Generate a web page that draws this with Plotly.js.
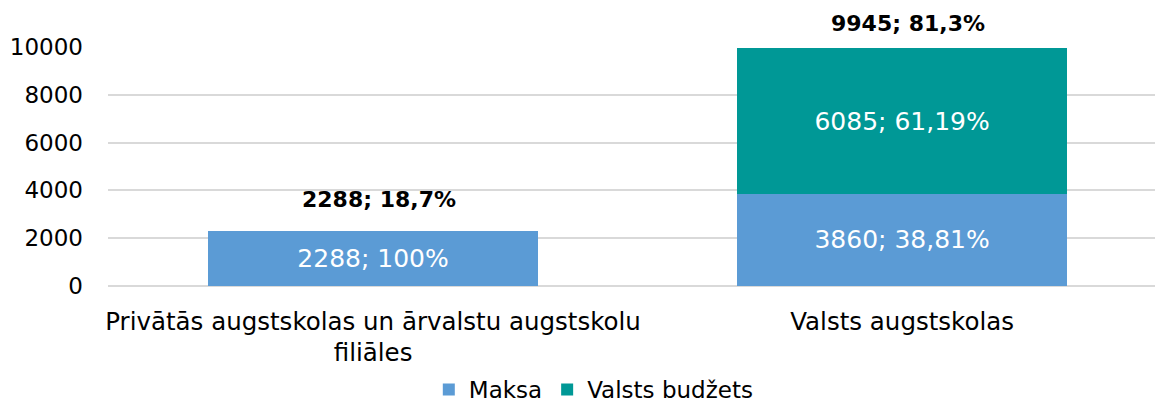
<!DOCTYPE html>
<html><head><meta charset="utf-8">
<script src="https://cdn.plot.ly/plotly-3.0.1.min.js"></script>
<style>html,body{margin:0;padding:0;background:#fff;}#chart{width:1155px;height:411px;}</style>
</head><body><div id="chart"></div>
<script>
const categories = ["Privātās augstskolas un ārvalstu augstskolu<br>filiāles", "Valsts augstskolas"];
const maksa = [2288, 3860];
const maksaPct = ["100%", "38,81%"];
const budzets = [0, 6085];
const budzetsPct = ["", "61,19%"];
const totals = [2288, 9945];
const totalsPct = ["18,7%", "81,3%"];
const tickVals = [0, 2000, 4000, 6000, 8000, 10000];

const FONT = "DejaVu Sans, Verdana, sans-serif";

const traces = [
  {type:"bar", name:"Maksa", x:categories, y:maksa,
   text: maksa.map((v,i)=> v + "; " + maksaPct[i]), textposition:"inside", insidetextanchor:"middle",
   textfont:{color:"#ffffff", size:25, family:FONT},
   marker:{color:"#5B9BD5"}, width:0.624, hoverinfo:"none"},
  {type:"bar", name:"Valsts budžets", x:categories, y:budzets,
   text: budzets.map((v,i)=> v ? v + "; " + budzetsPct[i] : ""), textposition:"inside", insidetextanchor:"middle",
   textfont:{color:"#ffffff", size:25, family:FONT},
   marker:{color:"#009896"}, width:0.624, hoverinfo:"none"}
];

const annotations = totals.map((t,i)=>({
  x: categories[i], y: t, xref:"x", yref:"y",
  text: "<b>" + t + "; " + totalsPct[i] + "</b>",
  showarrow:false, yanchor:"middle", yshift: i===0 ? 32 : 24.5, xshift:6,
  font:{size:22, color:"#000000", family:FONT}
}));

const layout = {
  width:1155, height:411,
  margin:{l:108, r:0, t:46.5, b:124.5, autoexpand:false},
  barmode:"stack",
  paper_bgcolor:"#ffffff", plot_bgcolor:"#ffffff",
  font:{family:FONT, size:23, color:"#000000"},
  showlegend:true,
  legend:{orientation:"h", x:0.464, xanchor:"center", yref:"container", y:0, yanchor:"bottom",
          font:{size:23, family:FONT, color:"#000"}, itemwidth:30, traceorder:"normal"},
  xaxis:{range:[-0.501, 1.478], showgrid:false, zeroline:false, showline:false, automargin:false,
         ticks:"", tickfont:{size:24.5, family:FONT}, ticklabelstandoff:18, fixedrange:true},
  yaxis:{range:[0,10000], tickvals:tickVals, ticktext:tickVals.map(String), automargin:false,
         showgrid:true, gridcolor:"#D9D9D9", gridwidth:2, zeroline:true, zerolinecolor:"#D9D9D9", zerolinewidth:2,
         showline:false, ticks:"", tickfont:{size:23, family:FONT}, ticklabelstandoff:24, fixedrange:true},
  annotations: annotations
};

Plotly.newPlot("chart", traces, layout, {staticPlot:true, displayModeBar:false});
</script></body></html>
